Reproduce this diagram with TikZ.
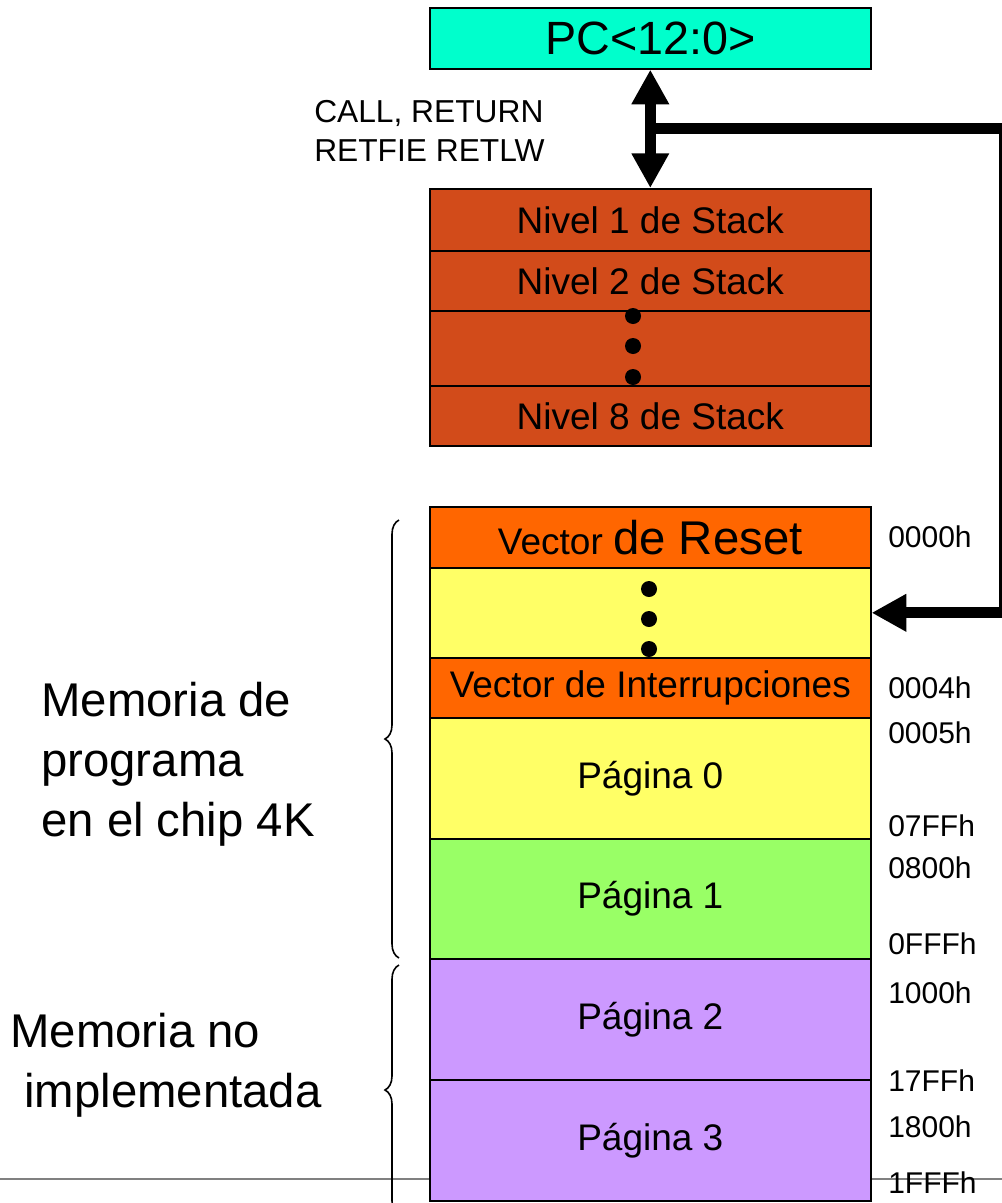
\documentclass[tikz,border=0pt]{standalone}
\usepackage{fontspec}
\setmainfont{Liberation Sans}
\usetikzlibrary{arrows.meta,decorations.pathreplacing,calc}
\definecolor{pccol}{HTML}{00FFCC}
\definecolor{stackcol}{HTML}{D24B1A}
\definecolor{resetcol}{HTML}{FF6600}
\definecolor{yelcol}{HTML}{FFFF66}
\definecolor{grncol}{HTML}{99FF66}
\definecolor{purcol}{HTML}{CC99FF}
\definecolor{rulecol}{HTML}{808080}
\tikzset{bigtip/.tip={Triangle[length=26pt,width=26.5pt]}}
\begin{document}
\begin{tikzpicture}[x=0.75pt,y=-0.75pt,
  cell/.style={draw=black, line width=1.2pt, inner sep=0pt, anchor=north west,
    minimum width=330.75pt, font=\fontsize{27.75}{33}\selectfont},
  addr/.style={anchor=west, inner sep=0pt, font=\fontsize{22.5}{27}\selectfont},
  bigline/.style={line width=8pt},
  sidetext/.style={anchor=north west, inner sep=0pt, align=left,
    font=\fontsize{35.5}{45}\selectfont},
  bracestyle/.style={draw=black, line width=1.2pt, decorate,
    decoration={brace, amplitude=10.5pt}}
]
\useasboundingbox (0,0) rectangle (1002,1203);
\fill[white] (0,0) rectangle (1002,1203);

% bottom rule (behind the boxes)
\draw[rulecol, line width=1.5pt] (0,1179) -- (1002,1179);

% PC register
\node[cell, fill=pccol, minimum height=45.75pt, font=\fontsize{35}{42}\selectfont] (pc) at (429,7) {PC<12:0>};

% stack
\node[cell, fill=stackcol, minimum height=46.5pt] (s1) at (429,188) {Nivel 1 de Stack};
\node[cell, fill=stackcol, minimum height=45pt] (s2) at (429,250) {Nivel 2 de Stack};
\node[cell, fill=stackcol, minimum height=56.25pt] (s3) at (429,310) {};
\node[cell, fill=stackcol, minimum height=45pt] (s4) at (429,385) {Nivel 8 de Stack};
\fill (633,316) circle[radius=8];
\fill (633,346) circle[radius=8];
\fill (633,377) circle[radius=8];

% program memory
\node[cell, fill=resetcol, minimum height=45.75pt] (m1) at (429,506) {Vector {\fontsize{35.5}{42}\selectfont de Reset}};
\node[cell, fill=yelcol, minimum height=67.5pt] (m2) at (429,567) {};
\node[cell, fill=resetcol, minimum height=45pt] (m3) at (429,657) {Vector de Interrupciones};
\node[cell, fill=yelcol, minimum height=90.75pt] (m4) at (429,717) {Página 0};
\node[cell, fill=grncol, minimum height=90pt] (m5) at (429,838) {Página 1};
\node[cell, fill=purcol, minimum height=90.75pt] (m6) at (429,958) {Página 2};
\node[cell, fill=purcol, minimum height=90.75pt] (m7) at (429,1079) {Página 3};
\fill (649,589) circle[radius=8];
\fill (649,619) circle[radius=8];
\fill (649,649) circle[radius=8];

% connectors
\draw[bigline, {bigtip}-{bigtip}] (pc.south) -- (s1.north);
\coordinate (j) at ($(pc.south)!0.5!(s1.north)$);
\draw[bigline, -{bigtip}] (j) -- ++(354,0) |- (m2.east);

% labels
\node[anchor=north west, inner sep=0pt, align=left,
  font=\fontsize{23.8}{29.25}\selectfont] (calltxt) at (314,100) {CALL, RETURN\\RETFIE RETLW};

\node[addr] (a1) at (888,537) {0000h};
\node[addr] (a2) at (888,688) {0004h};
\node[addr] (a3) at (888,733) {0005h};
\node[addr] (a4) at (888,826) {07FFh};
\node[addr] (a5) at (888,868) {0800h};
\node[addr] (a6) at (888,944) {0FFFh};
\node[addr] (a7) at (888,993) {1000h};
\node[addr] (a8) at (888,1081) {17FFh};
\node[addr] (a9) at (888,1127) {1800h};
\node[addr] (a10) at (888,1183) {1FFFh};

\node[sidetext] (memprog) at (41,682) {Memoria de\\programa\\en el chip 4K};
\node[sidetext] (memno) at (10,1013) {Memoria no\\\hspace*{10.5pt}implementada};

% braces
\draw[bracestyle] (399,958) -- (399,520);
\draw[bracestyle] (399,1215) -- (399,965);
\end{tikzpicture}
\end{document}
